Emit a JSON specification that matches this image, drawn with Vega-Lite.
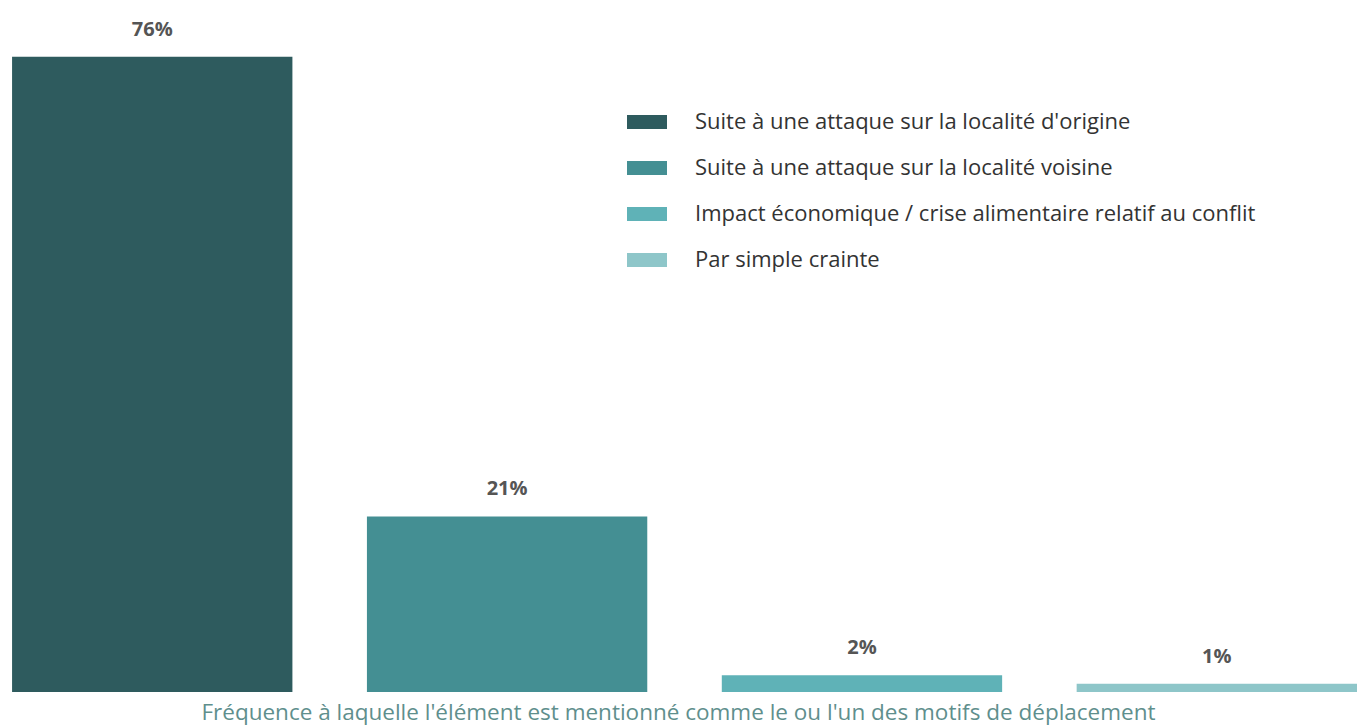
{
  "$schema": "https://vega.github.io/schema/vega-lite/v6.json",
  "width": 1357,
  "height": 692,
  "padding": {"left": 0, "right": 0, "top": 0, "bottom": 35},
  "autosize": {"type": "none"},
  "background": "white",
  "config": {"view": {"stroke": null}, "font": "Open Sans"},
  "title": {
    "text": "Fréquence à laquelle l'élément est mentionné comme le ou l'un des motifs de déplacement",
    "orient": "bottom",
    "anchor": "middle",
    "offset": 10,
    "fontSize": 22.5,
    "fontWeight": "normal",
    "color": "#5f8f8d",
    "font": "Open Sans"
  },
  "data": {
    "values": [
      {"cat": "Suite à une attaque sur la localité d'origine", "value": 76, "label": "76%"},
      {"cat": "Suite à une attaque sur la localité voisine", "value": 21, "label": "21%"},
      {"cat": "Impact économique / crise alimentaire relatif au conflit", "value": 2, "label": "2%"},
      {"cat": "Par simple crainte", "value": 1, "label": "1%"}
    ]
  },
  "encoding": {
    "x": {
      "field": "cat",
      "type": "nominal",
      "sort": null,
      "axis": null,
      "scale": {"paddingInner": 0.21, "paddingOuter": 0.017, "align": 1}
    },
    "y": {
      "field": "value",
      "type": "quantitative",
      "axis": null,
      "scale": {"domain": [0, 82.8], "nice": false, "zero": true}
    }
  },
  "layer": [
    {
      "mark": {"type": "bar"},
      "encoding": {
        "color": {
          "field": "cat",
          "type": "nominal",
          "sort": null,
          "scale": {
            "domain": [
              "Suite à une attaque sur la localité d'origine",
              "Suite à une attaque sur la localité voisine",
              "Impact économique / crise alimentaire relatif au conflit",
              "Par simple crainte"
            ],
            "range": ["#2e5b5e", "#448f93", "#5fb2b7", "#8ec6c9"]
          },
          "legend": {
            "title": null,
            "orient": "none",
            "legendX": 627,
            "legendY": 102,
            "padding": 0,
            "symbolType": "M-1,-0.35H1V0.35H-1Z",
            "symbolSize": 1600,
            "symbolStrokeWidth": 0,
            "labelFontSize": 22,
            "labelColor": "#333333",
            "labelFont": "Open Sans",
            "labelOffset": 28,
            "labelLimit": 700,
            "rowPadding": 15
          }
        }
      }
    },
    {
      "mark": {"type": "text", "baseline": "bottom", "dy": -17, "fontSize": 20, "fontWeight": "bold", "color": "#555555", "font": "Open Sans"},
      "encoding": {"text": {"field": "label"}}
    }
  ]
}
